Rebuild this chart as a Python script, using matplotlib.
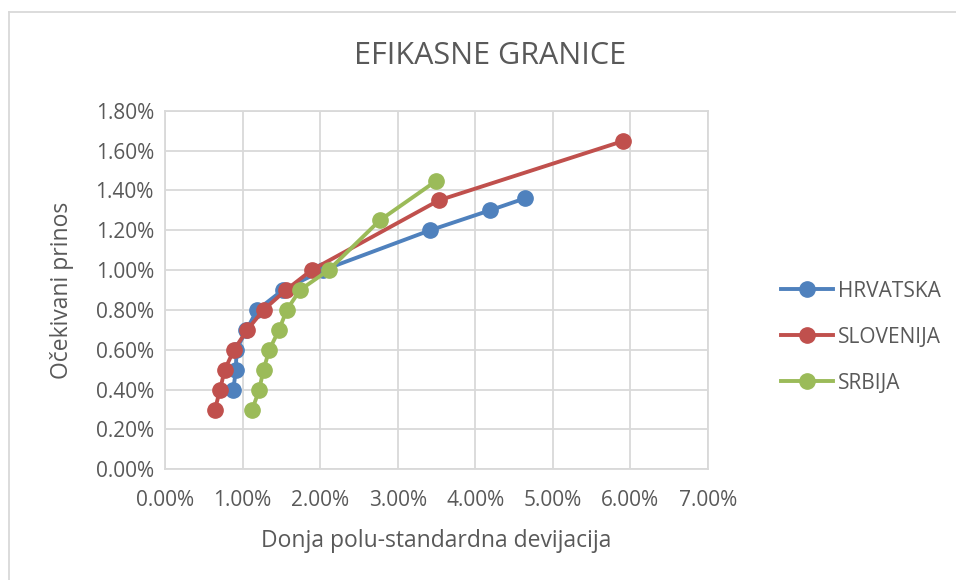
import matplotlib
matplotlib.use("Agg")
import matplotlib.pyplot as plt
from matplotlib.lines import Line2D
from matplotlib.ticker import FuncFormatter, MultipleLocator

plt.rcParams['font.family'] = ['Open Sans', 'DejaVu Sans']

# Data (percent)
hr_x = [0.88, 0.915, 0.92, 1.05, 1.19, 1.52, 2.04, 3.42, 4.19, 4.64]
hr_y = [0.40, 0.50, 0.60, 0.70, 0.80, 0.90, 1.00, 1.20, 1.30, 1.36]

sl_x = [0.644, 0.71, 0.77, 0.89, 1.06, 1.27, 1.56, 1.89, 3.53, 5.90]
sl_y = [0.30, 0.40, 0.50, 0.60, 0.70, 0.80, 0.90, 1.00, 1.35, 1.647]

sr_x = [1.125, 1.215, 1.27, 1.345, 1.47, 1.57, 1.74, 2.11, 2.77, 3.49]
sr_y = [0.30, 0.40, 0.50, 0.60, 0.70, 0.80, 0.90, 1.00, 1.25, 1.446]

series_names = ["HRVATSKA", "SLOVENIJA", "SRBIJA"]
colors = ["#4F81BD", "#C0504D", "#9BBB59"]

title = "EFIKASNE GRANICE"
xlabel = "Donja polu-standardna devijacija"
ylabel = "Očekivani prinos"

W, H = 956, 580
fig = plt.figure(figsize=(W / 100, H / 100), dpi=100)

# outer chart border (top and left)
fig.add_artist(Line2D([9 / W, 1], [1 - 12 / H, 1 - 12 / H], color="#D9D9D9", lw=1.3))
fig.add_artist(Line2D([9 / W, 9 / W], [0, 1 - 12 / H], color="#D9D9D9", lw=1.3))

left, right = 165, 708
top, bottom = 110.7, 469.3
ax = fig.add_axes([left / W, 1 - bottom / H, (right - left) / W, (bottom - top) / H])

text_color = "#595959"
for xs, ys, name, c in zip([hr_x, sl_x, sr_x], [hr_y, sl_y, sr_y], series_names, colors):
    ax.plot(xs, ys, color=c, lw=2.8, marker="o", markersize=11, label=name, zorder=3,
            solid_capstyle="round")

ax.set_xlim(0, 7)
ax.set_ylim(0, 1.8)
ax.xaxis.set_major_locator(MultipleLocator(1))
ax.yaxis.set_major_locator(MultipleLocator(0.2))
ax.xaxis.set_major_formatter(FuncFormatter(lambda v, p: f"{v:.2f}%"))
ax.yaxis.set_major_formatter(FuncFormatter(lambda v, p: f"{v:.2f}%"))
ax.grid(True, color="#D9D9D9", lw=1.3)
ax.set_axisbelow(True)
for s in ax.spines.values():
    s.set_color("#D9D9D9")
    s.set_linewidth(1.3)
ax.tick_params(length=0, labelsize=15, colors=text_color)
ax.tick_params(axis='y', pad=8)
ax.tick_params(axis='x', pad=15)

fig.text(490 / W, 1 - 56 / H, title, ha="center", va="center", fontsize=22, color=text_color)
fig.text(436 / W, 1 - 541 / H, xlabel, ha="center", va="center", fontsize=16.5, color=text_color)
fig.text(62 / W, 1 - 290 / H, ylabel, ha="center", va="center", fontsize=16.5, color=text_color,
         rotation=90)

handles = [Line2D([0], [0], color=c, lw=2.8, marker="o", markersize=11) for c in colors]
leg = fig.legend(handles, series_names, loc="upper left", bbox_to_anchor=(762 / W, 1 - 262 / H),
                 frameon=False, fontsize=15, labelcolor=text_color, handlelength=2.5,
                 handletextpad=0.25, labelspacing=1.2)

fig.savefig("out.png", dpi=100, facecolor="white")
